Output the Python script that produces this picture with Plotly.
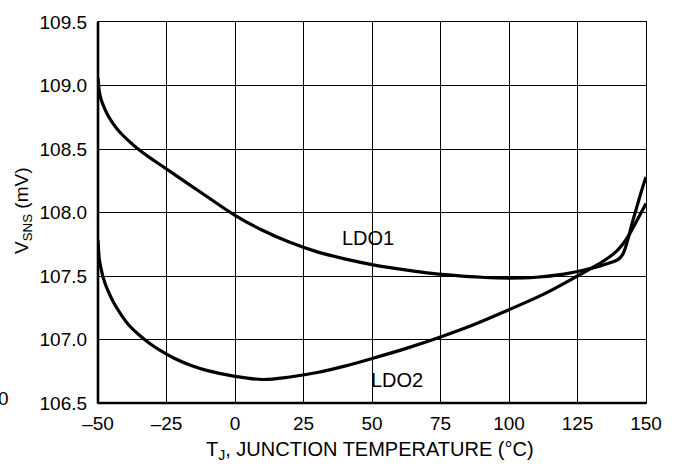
import plotly.graph_objects as go

# Junction temperature (°C) and sense voltage (mV) for each regulator
ldo1_temp = [-50, -49.5, -49, -48, -46.5, -44.5, -42, -39, -35.5, -31.5, -27, -22, -16, -10, 0,
             10, 20, 30, 40, 50, 60, 70, 80, 90, 100, 110, 120, 127, 133, 138, 140,
             141.5, 143, 145, 147, 148.5, 150]
ldo1_vsns = [109.06, 108.95, 108.90, 108.84, 108.77, 108.70, 108.632, 108.568, 108.502, 108.438,
             108.372, 108.298, 108.21, 108.122, 107.978, 107.86, 107.765, 107.69, 107.635, 107.59,
             107.555, 107.525, 107.505, 107.49, 107.483, 107.49, 107.515, 107.545, 107.578, 107.612,
             107.633, 107.67, 107.76, 107.92, 108.07, 108.18, 108.28]

ldo2_temp = [-50, -49.5, -49, -48, -46.5, -44.5, -42, -39, -35.5, -31.5, -27, -22, -16, -10, 0,
             10, 20, 30, 40, 50, 62.5, 75, 87.5, 100, 112.5, 125, 132, 136, 139, 141.5,
             144, 146.5, 150]
ldo2_vsns = [107.78, 107.63, 107.57, 107.48, 107.39, 107.30, 107.21, 107.12, 107.045, 106.975,
             106.91, 106.85, 106.795, 106.755, 106.71, 106.685, 106.705, 106.74, 106.79, 106.85,
             106.93, 107.02, 107.12, 107.235, 107.355, 107.50, 107.585, 107.64, 107.69, 107.75,
             107.83, 107.93, 108.07]

x_ticks = [-50, -25, 0, 25, 50, 75, 100, 125, 150]
y_ticks = [106.5, 107.0, 107.5, 108.0, 108.5, 109.0, 109.5]

FONT = "Liberation Sans, Arial, Helvetica, sans-serif"
INK = "black"

fig = go.Figure()
for t, v in [(ldo1_temp, ldo1_vsns), (ldo2_temp, ldo2_vsns)]:
    fig.add_trace(go.Scatter(
        x=t, y=v, mode="lines",
        line=dict(color=INK, width=3.2, shape="spline", smoothing=1.0),
        showlegend=False, hoverinfo="skip",
    ))

# Curve labels
fig.add_annotation(x=48.5, y=107.80, text="LDO1", showarrow=False,
                   font=dict(family=FONT, size=20, color=INK))
fig.add_annotation(x=59, y=106.68, text="LDO2", showarrow=False,
                   font=dict(family=FONT, size=20, color=INK))
# Stray character at the lower left edge
fig.add_annotation(xref="paper", yref="paper", x=-0.172, y=0.013, text="0",
                   showarrow=False, xanchor="center", yanchor="middle",
                   font=dict(family=FONT, size=19, color=INK))

# Axis titles
fig.add_annotation(xref="paper", yref="paper", x=0.496, y=-0.125,
                   text="T<sub>J</sub>, JUNCTION TEMPERATURE (°C)", showarrow=False,
                   xanchor="center", yanchor="middle",
                   font=dict(family=FONT, size=20, color=INK))
fig.add_annotation(xref="paper", yref="paper", x=-0.138, y=0.505,
                   text="V<sub>SNS</sub> (mV)", showarrow=False, textangle=-90,
                   xanchor="center", yanchor="middle",
                   font=dict(family=FONT, size=19, color=INK))

# Heavier left and bottom axis lines
fig.add_shape(type="line", xref="paper", yref="paper", x0=0, x1=0, y0=0, y1=1,
              line=dict(color=INK, width=2.6))
fig.add_shape(type="line", xref="paper", yref="paper", x0=0, x1=1, y0=0, y1=0,
              line=dict(color=INK, width=2.6))

fig.update_xaxes(
    range=[-50, 150], tickvals=x_ticks,
    ticktext=[f"{v:d}".replace("-", "\u2013") for v in x_ticks],
    showgrid=True, gridcolor=INK, gridwidth=1.2,
    showline=True, linecolor=INK, linewidth=1.2, mirror=True,
    zeroline=False, ticks="", ticklabelstandoff=3,
    tickfont=dict(family=FONT, size=19, color=INK),
)
fig.update_yaxes(
    range=[106.5, 109.5], tickvals=y_ticks, ticktext=[f"{v:.1f}" for v in y_ticks],
    showgrid=True, gridcolor=INK, gridwidth=1.2,
    showline=True, linecolor=INK, linewidth=1.2, mirror=True,
    zeroline=False, ticks="", ticklabelstandoff=6,
    tickfont=dict(family=FONT, size=19, color=INK),
)

fig.update_layout(
    width=676, height=474,
    margin=dict(l=98, r=30, t=19, b=71),
    paper_bgcolor="white", plot_bgcolor="white",
)

fig.write_html("out.html")
